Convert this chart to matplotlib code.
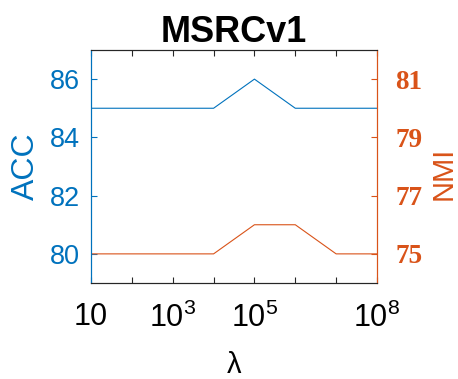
import matplotlib
matplotlib.use("Agg")
import matplotlib.pyplot as plt

lam_labels = ["10", "", r"$10^3$", "", r"$10^5$", "", "", r"$10^8$"]
acc = [85, 85, 85, 85, 86, 85, 85, 85]
nmi = [75, 75, 75, 75, 76, 76, 75, 75]
acc_ticks = [80, 82, 84, 86]
nmi_ticks = [75, 77, 79, 81]

blue = "#0072BD"
orange = "#D95319"

plt.rcParams['font.family'] = ['Liberation Sans', 'DejaVu Sans']
plt.rcParams['mathtext.fontset'] = 'custom'
plt.rcParams['mathtext.rm'] = 'Liberation Sans'
plt.rcParams['mathtext.it'] = 'Liberation Sans'

fig = plt.figure(figsize=(4.58, 3.79), dpi=100)
ax = fig.add_axes([91/458, 1-283/379, (377-91)/458, (283-50)/379])
x = list(range(1, len(acc) + 1))
ax.plot(x, acc, color=blue, lw=0.8)
ax.set_xlim(1, len(acc))
ax.set_ylim(79, 87)
ax.set_yticks(acc_ticks)
ax.set_xticks(x)
ax.set_xticklabels(lam_labels, fontsize=22)
ax.tick_params(axis='y', colors=blue, labelsize=19.5, direction='in', length=4, width=0.8, pad=8)
ax.tick_params(axis='x', direction='in', length=4, width=0.8, top=True, colors='#262626', pad=14)
for lab in ax.get_xticklabels():
    lab.set_color('black')
ax.set_ylabel("ACC", color=blue, fontsize=23)
ax.yaxis.label.set_va('center')
ax.yaxis.set_label_coords(-0.228, 0.5)
ax.set_xlabel("λ", fontsize=21)
ax.xaxis.set_label_coords(0.5, -0.290)
ax.set_title("MSRCv1", fontsize=26, fontweight='bold', pad=5)

ax2 = ax.twinx()
ax2.plot(x, nmi, color=orange, lw=0.8)
ax2.set_ylim(74, 82)
ax2.set_yticks(nmi_ticks)
ax2.tick_params(axis='y', colors=orange, direction='in', length=4, width=0.8, pad=13)
for lab in ax2.get_yticklabels():
    lab.set_fontfamily('Liberation Serif')
    lab.set_fontweight('bold')
    lab.set_fontsize(19.5)
ax2.set_ylabel("NMI", color=orange, fontsize=21, rotation=90)
ax2.yaxis.label.set_va('center')
ax2.yaxis.set_label_coords(1.232, 0.47)

for a in (ax, ax2):
    a.spines['left'].set_color(blue)
    a.spines['right'].set_color(orange)
    a.spines['top'].set_color('#262626')
    a.spines['bottom'].set_color('#262626')
    for s in a.spines.values():
        s.set_linewidth(0.8)

fig.savefig("out.png", dpi=100)
